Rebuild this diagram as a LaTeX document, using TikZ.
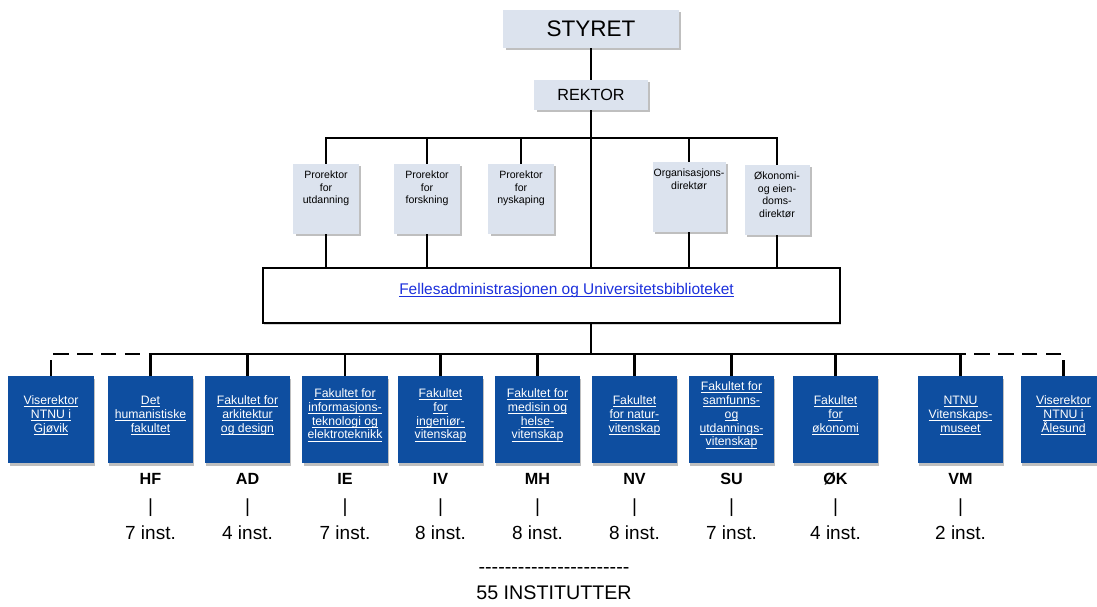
\documentclass[tikz,border=0pt]{standalone}
\usepackage{fontspec}
\setmainfont{Liberation Sans}
\usetikzlibrary{shadows}
\definecolor{leadfill}{RGB}{220,227,238}
\definecolor{facblue}{RGB}{14,78,160}
\definecolor{linkblue}{RGB}{28,48,220}
% underlined link-like text, one line at a time
\newcommand{\lnk}[1]{\underline{\smash{#1}}}
% top aligned text for the small staff boxes
\newcommand{\stafftext}[2][1.6cm]{\parbox[c][1.75cm][t]{#1}{\centering\vspace*{5pt}#2}}
\tikzset{
    % connector lines of the chart
    conn/.style={line width=2.1pt},
    dashed conn/.style={line width=2.1pt, dash pattern=on 11pt off 6pt},
%
    % light boxes for the board and the leaders
    lead box/.style={fill=leadfill, inner sep=0pt,
        drop shadow={shadow xshift=1.5pt, shadow yshift=-1.5pt,
            fill=black!50, opacity=.5}},
    staff box/.style={lead box, minimum width=1.625cm, minimum height=1.75cm,
        font=\fontsize{7.5}{9}\selectfont},
%
    % dark blue boxes for the faculties
    fac box/.style={fill=facblue, text=white, align=center, inner sep=1pt,
        minimum width=2.125cm, minimum height=2.175cm,
        font=\fontsize{8.7}{9.9}\selectfont,
        drop shadow={shadow xshift=1pt, shadow yshift=-2pt,
            fill=black!50, opacity=.5}},
%
    % texts under the faculties
    abbr/.style={font=\fontsize{11.5}{12}\selectfont\bfseries, inner sep=0pt},
    count/.style={font=\fontsize{13.5}{14}\selectfont, inner sep=0pt}}

\begin{document}
\begin{tikzpicture}[x=0.025cm, y=-0.025cm]

\clip (0,0) rectangle (1097,606);

\node (styret) [lead box, minimum width=4.375cm, minimum height=.95cm,
    font=\fontsize{16}{18}\selectfont] at (591,29) {STYRET};
\node (rektor) [lead box, minimum width=2.825cm, minimum height=.75cm,
    font=\fontsize{11.5}{13}\selectfont] at (591,95) {REKTOR};

\node (pu) [staff box] at (326,199) {\stafftext{Prorektor\\for\\utdanning}};
\node (pf) [staff box] at (427,199) {\stafftext{Prorektor\\for\\forskning}};
\node (pn) [staff box] at (521,199) {\stafftext{Prorektor\\for\\nyskaping}};
\node (org) [staff box] at (689,197)
    {\stafftext[1.825cm]{Organisasjons-\\direktør}};
\node (oe) [staff box] at (777,200)
    {\stafftext{Økonomi-\\og eien-\\doms-\\direktør}};

\node (felles) [draw, line width=1pt, fill=white, minimum width=14.425cm,
    minimum height=1.375cm, text=linkblue, font=\fontsize{11}{12}\selectfont,
    drop shadow={shadow xshift=1pt, shadow yshift=-1.5pt, fill=black!40, opacity=.4}]
    at (551.5,295.5) {\hspace*{.75cm}\lnk{Fellesadministrasjonen og Universitetsbiblioteket}};

\node (gjovik) [fac box] at (51,419.5)
    {\lnk{Viserektor}\\\lnk{NTNU i}\\\lnk{Gjøvik}};
\node (hf) [fac box] at (150.5,419.5)
    {\lnk{Det}\\\lnk{humanistiske}\\\lnk{fakultet}};
\node (ad) [fac box] at (247.5,419.5)
    {\lnk{Fakultet for}\\\lnk{arkitektur}\\\lnk{og design}};
\node (ie) [fac box] at (345,419.5)
    {\lnk{Fakultet for}\\\lnk{informasjons-}\\\lnk{teknologi og}\\\lnk{elektroteknikk}};
\node (iv) [fac box] at (440.5,419.5)
    {\lnk{Fakultet}\\\lnk{for}\\\lnk{ingeniør-}\\\lnk{vitenskap}};
\node (mh) [fac box] at (537.5,419.5)
    {\lnk{Fakultet for}\\\lnk{medisin og}\\\lnk{helse-}\\\lnk{vitenskap}};
\node (nv) [fac box] at (634.5,419.5)
    {\lnk{Fakultet}\\\lnk{for natur-}\\\lnk{vitenskap}};
\node (su) [fac box] at (731.5,419.5)
    {\lnk{Fakultet for}\\\lnk{samfunns-}\\\lnk{og}\\\lnk{utdannings-}\\\lnk{vitenskap}};
\node (ok) [fac box] at (835.5,419.5)
    {\lnk{Fakultet}\\\lnk{for}\\\lnk{økonomi}};
\node (vm) [fac box] at (960.5,419.5)
    {\lnk{NTNU}\\\lnk{Vitenskaps-}\\\lnk{museet}};
\node (alesund) [fac box] at (1063.5,419.5)
    {\lnk{Viserektor}\\\lnk{NTNU i}\\\lnk{Ålesund}};

% rows for the texts under the faculties
\coordinate (abbrow) at (0,479);
\coordinate (barrow) at (0,508);
\coordinate (numrow) at (0,533);

\foreach \fac/\abb/\num in {hf/HF/7, ad/AD/4, ie/IE/7, iv/IV/8, mh/MH/8,
        nv/NV/8, su/SU/7, ok/ØK/4, vm/VM/2} {
    \node (\fac-abb) [abbr] at (\fac |- abbrow) {\abb};
    \node (\fac-bar) [count] at (\fac |- barrow) {|};
    \node (\fac-num) [count] at (\fac |- numrow) {\num\ inst.};
}

\node (sumline) [count, font=\fontsize{14}{15}\selectfont] at (554,570)
    {\foreach \i in {1,...,23}{-\kern0pt}};
\node (total) [count, font=\fontsize{14}{15}\selectfont] at (554,593)
    {55 INSTITUTTER};

% the lines of the chart
\coordinate (topbus) at (591,138);
\coordinate (botbus) at (591,354);

\draw [conn] (styret) -- (rektor);
\draw [conn] (rektor.south) -- (rektor |- felles.north);
\draw [conn] (rektor |- felles.south) -- (botbus);

\foreach \s in {pu,pf,pn,org,oe}
    \draw [conn] (\s.north) |- (topbus);
\foreach \s in {pu,pf,org,oe}
    \draw [conn] (\s.south) -- (\s.south |- felles.north);

\foreach \f in {hf,ad,ie,iv,mh,nv,su,ok,vm}
    \draw [conn] (\f.north) |- (botbus);
\draw [dashed conn] (gjovik.north) |- (hf |- botbus);
\draw [dashed conn] (alesund.north) |- (vm |- botbus);

\end{tikzpicture}
\end{document}
